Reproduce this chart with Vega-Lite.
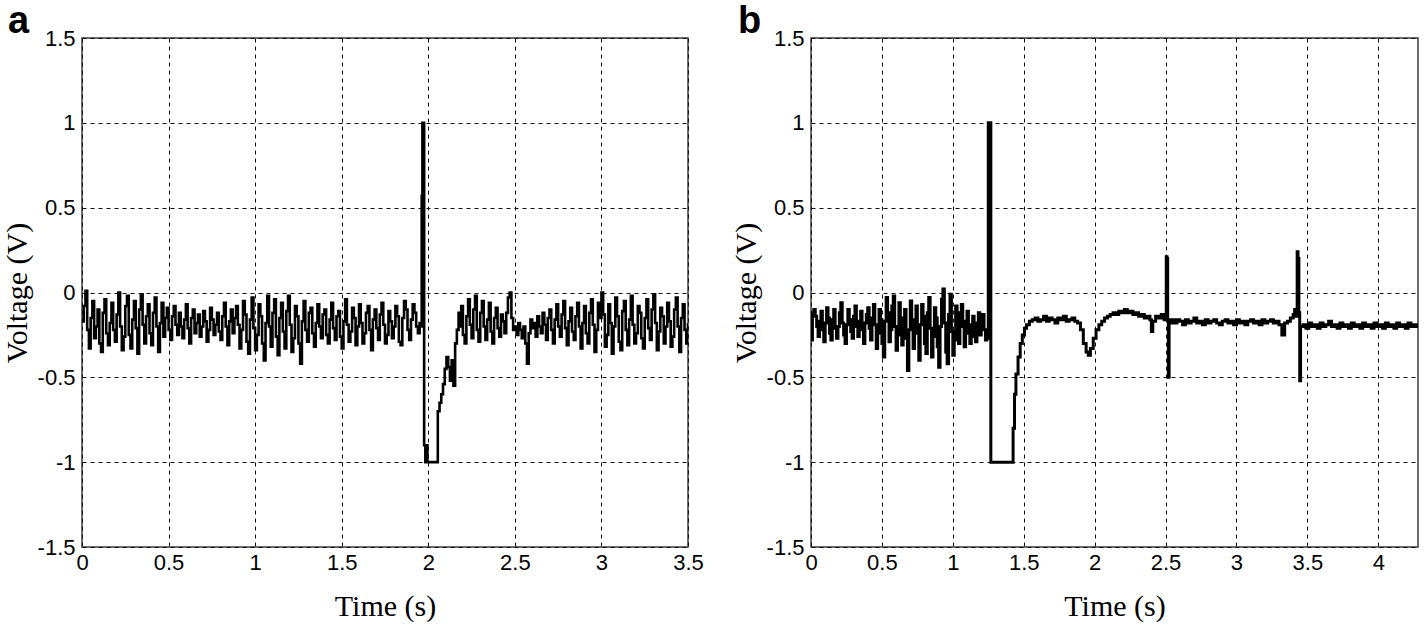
{
  "$schema": "https://vega.github.io/schema/vega-lite/v6.json",
  "autosize": {"type": "none"},
  "padding": {"left": 82, "top": 38, "right": 1342, "bottom": 589},
  "background": "white",
  "spacing": 123,
  "bounds": "flush",
  "config": {
    "view": {"stroke": "#3c3c3c", "strokeWidth": 1.5},
    "axis": {
      "grid": true, "gridColor": "#111", "gridDash": [4, 4], "gridWidth": 1, "gridOpacity": 1,
      "domain": false, "ticks": false,
      "labelFont": "Liberation Sans", "labelFontSize": 22, "labelColor": "#000",
      "labelFlush": false, "labelOverlap": false,
      "titleFont": "Liberation Serif", "titleFontSize": 30, "titleFontWeight": "normal", "titleColor": "#000"
    }
  },
  "datasets": {
    "a": [
      {"t":0,"v":-0.17},{"t":0.01,"v":-0.08},{"t":0.02,"v":0.01},{"t":0.03,"v":-0.22},{"t":0.04,"v":-0.33},{"t":0.05,"v":-0.15},{"t":0.06,"v":-0.05},{"t":0.07,"v":-0.27},{"t":0.08,"v":-0.2},{"t":0.09,"v":-0.1},
      {"t":0.1,"v":-0.3},{"t":0.11,"v":-0.35},{"t":0.12,"v":-0.12},{"t":0.13,"v":-0.04},{"t":0.14,"v":-0.24},{"t":0.15,"v":-0.31},{"t":0.16,"v":-0.18},{"t":0.17,"v":-0.06},{"t":0.18,"v":-0.22},{"t":0.19,"v":-0.29},
      {"t":0.2,"v":-0.13},{"t":0.21,"v":0},{"t":0.22,"v":-0.2},{"t":0.23,"v":-0.34},{"t":0.24,"v":-0.26},{"t":0.25,"v":-0.08},{"t":0.26,"v":-0.02},{"t":0.27,"v":-0.25},{"t":0.28,"v":-0.33},{"t":0.29,"v":-0.16},
      {"t":0.3,"v":-0.05},{"t":0.31,"v":-0.21},{"t":0.32,"v":-0.36},{"t":0.33,"v":-0.1},{"t":0.34,"v":-0.01},{"t":0.35,"v":-0.19},{"t":0.36,"v":-0.3},{"t":0.37,"v":-0.14},{"t":0.38,"v":-0.07},{"t":0.39,"v":-0.24},
      {"t":0.4,"v":-0.31},{"t":0.41,"v":-0.12},{"t":0.42,"v":-0.03},{"t":0.43,"v":-0.2},{"t":0.44,"v":-0.35},{"t":0.45,"v":-0.18},{"t":0.46,"v":-0.06},{"t":0.47,"v":-0.26},{"t":0.48,"v":-0.15},{"t":0.49,"v":-0.09},
      {"t":0.5,"v":-0.22},{"t":0.51,"v":-0.28},{"t":0.52,"v":-0.14},{"t":0.53,"v":-0.08},{"t":0.54,"v":-0.19},{"t":0.55,"v":-0.25},{"t":0.56,"v":-0.12},{"t":0.57,"v":-0.2},{"t":0.58,"v":-0.27},{"t":0.59,"v":-0.16},
      {"t":0.6,"v":-0.07},{"t":0.61,"v":-0.21},{"t":0.62,"v":-0.3},{"t":0.63,"v":-0.15},{"t":0.64,"v":-0.1},{"t":0.65,"v":-0.24},{"t":0.66,"v":-0.18},{"t":0.67,"v":-0.13},{"t":0.68,"v":-0.26},{"t":0.69,"v":-0.2},
      {"t":0.7,"v":-0.11},{"t":0.71,"v":-0.17},{"t":0.72,"v":-0.29},{"t":0.73,"v":-0.22},{"t":0.74,"v":-0.09},{"t":0.75,"v":-0.16},{"t":0.76,"v":-0.25},{"t":0.77,"v":-0.19},{"t":0.78,"v":-0.12},{"t":0.79,"v":-0.23},
      {"t":0.8,"v":-0.28},{"t":0.81,"v":-0.14},{"t":0.82,"v":-0.06},{"t":0.83,"v":-0.2},{"t":0.84,"v":-0.31},{"t":0.85,"v":-0.17},{"t":0.86,"v":-0.1},{"t":0.87,"v":-0.24},{"t":0.88,"v":-0.15},{"t":0.89,"v":-0.08},
      {"t":0.9,"v":-0.19},{"t":0.91,"v":-0.33},{"t":0.92,"v":-0.22},{"t":0.93,"v":-0.05},{"t":0.94,"v":-0.13},{"t":0.95,"v":-0.29},{"t":0.96,"v":-0.36},{"t":0.97,"v":-0.16},{"t":0.98,"v":-0.03},{"t":0.99,"v":-0.21},
      {"t":1,"v":-0.34},{"t":1.01,"v":-0.25},{"t":1.02,"v":-0.07},{"t":1.03,"v":-0.14},{"t":1.04,"v":-0.3},{"t":1.05,"v":-0.4},{"t":1.06,"v":-0.18},{"t":1.07,"v":-0.02},{"t":1.08,"v":-0.2},{"t":1.09,"v":-0.32},
      {"t":1.1,"v":-0.12},{"t":1.11,"v":-0.04},{"t":1.12,"v":-0.26},{"t":1.13,"v":-0.37},{"t":1.14,"v":-0.15},{"t":1.15,"v":-0.06},{"t":1.16,"v":-0.23},{"t":1.17,"v":-0.33},{"t":1.18,"v":-0.11},{"t":1.19,"v":-0.02},
      {"t":1.2,"v":-0.19},{"t":1.21,"v":-0.35},{"t":1.22,"v":-0.27},{"t":1.23,"v":-0.08},{"t":1.24,"v":-0.14},{"t":1.25,"v":-0.3},{"t":1.26,"v":-0.42},{"t":1.27,"v":-0.17},{"t":1.28,"v":-0.05},{"t":1.29,"v":-0.22},
      {"t":1.3,"v":-0.29},{"t":1.31,"v":-0.12},{"t":1.32,"v":-0.09},{"t":1.33,"v":-0.24},{"t":1.34,"v":-0.32},{"t":1.35,"v":-0.18},{"t":1.36,"v":-0.07},{"t":1.37,"v":-0.2},{"t":1.38,"v":-0.27},{"t":1.39,"v":-0.13},
      {"t":1.4,"v":-0.1},{"t":1.41,"v":-0.25},{"t":1.42,"v":-0.3},{"t":1.43,"v":-0.16},{"t":1.44,"v":-0.06},{"t":1.45,"v":-0.21},{"t":1.46,"v":-0.28},{"t":1.47,"v":-0.14},{"t":1.48,"v":-0.11},{"t":1.49,"v":-0.26},
      {"t":1.5,"v":-0.33},{"t":1.51,"v":-0.17},{"t":1.52,"v":-0.04},{"t":1.53,"v":-0.19},{"t":1.54,"v":-0.29},{"t":1.55,"v":-0.23},{"t":1.56,"v":-0.09},{"t":1.57,"v":-0.15},{"t":1.58,"v":-0.31},{"t":1.59,"v":-0.2},
      {"t":1.6,"v":-0.07},{"t":1.61,"v":-0.18},{"t":1.62,"v":-0.3},{"t":1.63,"v":-0.24},{"t":1.64,"v":-0.12},{"t":1.65,"v":-0.08},{"t":1.66,"v":-0.22},{"t":1.67,"v":-0.34},{"t":1.68,"v":-0.16},{"t":1.69,"v":-0.1},
      {"t":1.7,"v":-0.21},{"t":1.71,"v":-0.28},{"t":1.72,"v":-0.13},{"t":1.73,"v":-0.06},{"t":1.74,"v":-0.19},{"t":1.75,"v":-0.3},{"t":1.76,"v":-0.25},{"t":1.77,"v":-0.11},{"t":1.78,"v":-0.17},{"t":1.79,"v":-0.27},
      {"t":1.8,"v":-0.2},{"t":1.81,"v":-0.08},{"t":1.82,"v":-0.14},{"t":1.83,"v":-0.29},{"t":1.84,"v":-0.31},{"t":1.85,"v":-0.15},{"t":1.86,"v":-0.05},{"t":1.87,"v":-0.1},{"t":1.88,"v":-0.22},{"t":1.89,"v":-0.28},
      {"t":1.9,"v":-0.16},{"t":1.91,"v":-0.07},{"t":1.92,"v":-0.12},{"t":1.93,"v":-0.2},{"t":1.94,"v":-0.24},{"t":1.95,"v":-0.18},
      {"t":1.958,"v":-0.2},{"t":1.962,"v":0.57},{"t":1.966,"v":1.0},{"t":1.972,"v":1.0},{"t":1.976,"v":-0.9},{"t":1.983,"v":-1.0},{"t":1.99,"v":-0.9},{"t":1.995,"v":-1.0},
      {"t":2.01,"v":-1.0},{"t":2.03,"v":-1.0},{"t":2.045,"v":-1.0},{"t":2.055,"v":-0.7},{"t":2.065,"v":-0.65},{"t":2.075,"v":-0.6},{"t":2.085,"v":-0.54},{"t":2.095,"v":-0.45},
      {"t":2.105,"v":-0.38},{"t":2.115,"v":-0.44},{"t":2.125,"v":-0.52},{"t":2.135,"v":-0.4},{"t":2.145,"v":-0.55},{"t":2.155,"v":-0.3},{"t":2.165,"v":-0.22},{"t":2.175,"v":-0.12},
      {"t":2.18,"v":-0.2},{"t":2.19,"v":-0.08},
      {"t":2.2,"v":-0.25},{"t":2.21,"v":-0.3},{"t":2.22,"v":-0.14},{"t":2.23,"v":-0.04},{"t":2.24,"v":-0.19},{"t":2.25,"v":-0.27},{"t":2.26,"v":-0.1},{"t":2.27,"v":-0.02},{"t":2.28,"v":-0.22},{"t":2.29,"v":-0.29},
      {"t":2.3,"v":-0.12},{"t":2.31,"v":-0.05},{"t":2.32,"v":-0.2},{"t":2.33,"v":-0.28},{"t":2.34,"v":-0.16},{"t":2.35,"v":-0.06},{"t":2.36,"v":-0.23},{"t":2.37,"v":-0.3},{"t":2.38,"v":-0.15},{"t":2.39,"v":-0.09},
      {"t":2.4,"v":-0.21},{"t":2.41,"v":-0.26},{"t":2.42,"v":-0.13},{"t":2.43,"v":-0.17},{"t":2.44,"v":-0.24},{"t":2.45,"v":-0.12},{"t":2.46,"v":-0.03},{"t":2.47,"v":0},{"t":2.48,"v":-0.15},{"t":2.49,"v":-0.22},
      {"t":2.5,"v":-0.2},{"t":2.51,"v":-0.25},{"t":2.52,"v":-0.18},{"t":2.53,"v":-0.22},{"t":2.54,"v":-0.27},{"t":2.55,"v":-0.2},{"t":2.56,"v":-0.3},{"t":2.57,"v":-0.42},{"t":2.58,"v":-0.24},{"t":2.59,"v":-0.16},
      {"t":2.6,"v":-0.21},{"t":2.61,"v":-0.18},{"t":2.62,"v":-0.26},{"t":2.63,"v":-0.14},{"t":2.64,"v":-0.2},{"t":2.65,"v":-0.24},{"t":2.66,"v":-0.12},{"t":2.67,"v":-0.19},{"t":2.68,"v":-0.28},{"t":2.69,"v":-0.15},
      {"t":2.7,"v":-0.1},{"t":2.71,"v":-0.22},{"t":2.72,"v":-0.3},{"t":2.73,"v":-0.16},{"t":2.74,"v":-0.07},{"t":2.75,"v":-0.2},{"t":2.76,"v":-0.26},{"t":2.77,"v":-0.13},{"t":2.78,"v":-0.05},{"t":2.79,"v":-0.21},
      {"t":2.8,"v":-0.31},{"t":2.81,"v":-0.17},{"t":2.82,"v":-0.09},{"t":2.83,"v":-0.23},{"t":2.84,"v":-0.28},{"t":2.85,"v":-0.14},{"t":2.86,"v":-0.06},{"t":2.87,"v":-0.2},{"t":2.88,"v":-0.33},{"t":2.89,"v":-0.18},
      {"t":2.9,"v":-0.08},{"t":2.91,"v":-0.24},{"t":2.92,"v":-0.3},{"t":2.93,"v":-0.12},{"t":2.94,"v":-0.04},{"t":2.95,"v":-0.19},{"t":2.96,"v":-0.35},{"t":2.97,"v":-0.22},{"t":2.98,"v":-0.06},{"t":2.99,"v":-0.15},
      {"t":3,"v":0},{"t":3.01,"v":-0.13},{"t":3.02,"v":-0.32},{"t":3.03,"v":-0.25},{"t":3.04,"v":-0.07},{"t":3.05,"v":-0.18},{"t":3.06,"v":-0.36},{"t":3.07,"v":-0.2},{"t":3.08,"v":-0.03},{"t":3.09,"v":-0.14},
      {"t":3.1,"v":-0.29},{"t":3.11,"v":-0.34},{"t":3.12,"v":-0.11},{"t":3.13,"v":-0.05},{"t":3.14,"v":-0.22},{"t":3.15,"v":-0.31},{"t":3.16,"v":-0.16},{"t":3.17,"v":-0.02},{"t":3.18,"v":-0.19},{"t":3.19,"v":-0.3},
      {"t":3.2,"v":-0.24},{"t":3.21,"v":-0.08},{"t":3.22,"v":-0.12},{"t":3.23,"v":-0.27},{"t":3.24,"v":-0.33},{"t":3.25,"v":-0.15},{"t":3.26,"v":-0.04},{"t":3.27,"v":-0.21},{"t":3.28,"v":-0.28},{"t":3.29,"v":-0.1},
      {"t":3.3,"v":-0.01},{"t":3.31,"v":-0.18},{"t":3.32,"v":-0.34},{"t":3.33,"v":-0.23},{"t":3.34,"v":-0.09},{"t":3.35,"v":-0.14},{"t":3.36,"v":-0.3},{"t":3.37,"v":-0.2},{"t":3.38,"v":-0.06},{"t":3.39,"v":-0.17},
      {"t":3.4,"v":-0.32},{"t":3.41,"v":-0.26},{"t":3.42,"v":-0.1},{"t":3.43,"v":-0.03},{"t":3.44,"v":-0.2},{"t":3.45,"v":-0.35},{"t":3.46,"v":-0.15},{"t":3.47,"v":-0.07},{"t":3.48,"v":-0.22},{"t":3.49,"v":-0.3},{"t":3.5,"v":-0.18}
    ],
    "b": [
      {"t":0,"v":-0.28},{"t":0.01,"v":-0.12},{"t":0.02,"v":-0.1},{"t":0.03,"v":-0.14},{"t":0.04,"v":-0.2},{"t":0.05,"v":-0.26},{"t":0.06,"v":-0.17},{"t":0.07,"v":-0.11},{"t":0.08,"v":-0.22},{"t":0.09,"v":-0.29},
      {"t":0.1,"v":-0.18},{"t":0.11,"v":-0.09},{"t":0.12,"v":-0.15},{"t":0.13,"v":-0.24},{"t":0.14,"v":-0.28},{"t":0.15,"v":-0.16},{"t":0.16,"v":-0.1},{"t":0.17,"v":-0.21},{"t":0.18,"v":-0.27},{"t":0.19,"v":-0.2},
      {"t":0.2,"v":-0.12},{"t":0.21,"v":-0.06},{"t":0.22,"v":-0.18},{"t":0.23,"v":-0.25},{"t":0.24,"v":-0.3},{"t":0.25,"v":-0.19},{"t":0.26,"v":-0.1},{"t":0.27,"v":-0.16},{"t":0.28,"v":-0.23},{"t":0.29,"v":-0.27},
      {"t":0.3,"v":-0.14},{"t":0.31,"v":-0.08},{"t":0.32,"v":-0.2},{"t":0.33,"v":-0.26},{"t":0.34,"v":-0.17},{"t":0.35,"v":-0.11},{"t":0.36,"v":-0.22},{"t":0.37,"v":-0.3},{"t":0.38,"v":-0.18},{"t":0.39,"v":-0.13},
      {"t":0.4,"v":-0.09},{"t":0.41,"v":-0.21},{"t":0.42,"v":-0.28},{"t":0.43,"v":-0.15},{"t":0.44,"v":-0.07},{"t":0.45,"v":-0.19},{"t":0.46,"v":-0.33},{"t":0.47,"v":-0.24},{"t":0.48,"v":-0.1},{"t":0.49,"v":-0.16},
      {"t":0.5,"v":-0.3},{"t":0.51,"v":-0.38},{"t":0.52,"v":-0.17},{"t":0.53,"v":-0.03},{"t":0.54,"v":-0.12},{"t":0.55,"v":-0.29},{"t":0.56,"v":-0.22},{"t":0.57,"v":-0.08},{"t":0.58,"v":-0.02},{"t":0.59,"v":-0.2},
      {"t":0.6,"v":-0.34},{"t":0.61,"v":-0.25},{"t":0.62,"v":-0.06},{"t":0.63,"v":-0.15},{"t":0.64,"v":-0.31},{"t":0.65,"v":-0.18},{"t":0.66,"v":-0.1},{"t":0.67,"v":-0.27},{"t":0.68,"v":-0.46},{"t":0.69,"v":-0.22},
      {"t":0.7,"v":-0.05},{"t":0.71,"v":-0.16},{"t":0.72,"v":-0.33},{"t":0.73,"v":-0.2},{"t":0.74,"v":-0.08},{"t":0.75,"v":-0.24},{"t":0.76,"v":-0.4},{"t":0.77,"v":-0.19},{"t":0.78,"v":-0.07},{"t":0.79,"v":-0.14},
      {"t":0.8,"v":-0.3},{"t":0.81,"v":-0.36},{"t":0.82,"v":-0.12},{"t":0.83,"v":-0.03},{"t":0.84,"v":-0.21},{"t":0.85,"v":-0.38},{"t":0.86,"v":-0.26},{"t":0.87,"v":-0.09},{"t":0.88,"v":-0.15},{"t":0.89,"v":-0.32},
      {"t":0.9,"v":-0.44},{"t":0.91,"v":-0.2},{"t":0.92,"v":-0.04},{"t":0.93,"v":0.02},{"t":0.94,"v":-0.18},{"t":0.95,"v":-0.35},{"t":0.96,"v":-0.42},{"t":0.97,"v":-0.13},{"t":0.98,"v":-0.01},{"t":0.99,"v":-0.23},
      {"t":1,"v":-0.37},{"t":1.01,"v":-0.28},{"t":1.02,"v":-0.08},{"t":1.03,"v":-0.12},{"t":1.04,"v":-0.3},{"t":1.05,"v":-0.2},{"t":1.06,"v":-0.07},{"t":1.07,"v":-0.17},{"t":1.08,"v":-0.32},{"t":1.09,"v":-0.24},
      {"t":1.1,"v":-0.11},{"t":1.11,"v":-0.19},{"t":1.12,"v":-0.3},{"t":1.13,"v":-0.26},{"t":1.14,"v":-0.14},{"t":1.15,"v":-0.22},{"t":1.16,"v":-0.29},{"t":1.17,"v":-0.18},{"t":1.18,"v":-0.12},{"t":1.19,"v":-0.25},
      {"t":1.2,"v":-0.19},{"t":1.21,"v":-0.13},{"t":1.22,"v":-0.22},{"t":1.23,"v":-0.28},{"t":1.24,"v":-0.27},{"t":1.248,"v":-0.27},
      {"t":1.25,"v":1.0},{"t":1.262,"v":1.0},{"t":1.268,"v":-1.0},{"t":1.3,"v":-1.0},{"t":1.35,"v":-1.0},{"t":1.4,"v":-1.0},{"t":1.415,"v":-1.0},
      {"t":1.425,"v":-0.8},{"t":1.435,"v":-0.6},{"t":1.445,"v":-0.48},{"t":1.46,"v":-0.38},{"t":1.475,"v":-0.3},{"t":1.49,"v":-0.25},{"t":1.505,"v":-0.21},{"t":1.52,"v":-0.19},{"t":1.54,"v":-0.17},{"t":1.56,"v":-0.16},
      {"t":1.58,"v":-0.15},{"t":1.6,"v":-0.17},{"t":1.62,"v":-0.16},{"t":1.64,"v":-0.14},{"t":1.66,"v":-0.17},{"t":1.68,"v":-0.15},{"t":1.7,"v":-0.16},{"t":1.72,"v":-0.18},{"t":1.74,"v":-0.15},{"t":1.76,"v":-0.16},
      {"t":1.78,"v":-0.14},{"t":1.8,"v":-0.17},{"t":1.82,"v":-0.16},{"t":1.84,"v":-0.15},{"t":1.86,"v":-0.17},{"t":1.88,"v":-0.18},
      {"t":1.9,"v":-0.22},{"t":1.92,"v":-0.3},{"t":1.94,"v":-0.35},{"t":1.955,"v":-0.37},{"t":1.97,"v":-0.33},{"t":1.99,"v":-0.27},{"t":2.01,"v":-0.22},{"t":2.03,"v":-0.19},{"t":2.05,"v":-0.17},{"t":2.07,"v":-0.15},
      {"t":2.09,"v":-0.14},{"t":2.11,"v":-0.13},{"t":2.13,"v":-0.12},{"t":2.15,"v":-0.13},{"t":2.17,"v":-0.11},{"t":2.19,"v":-0.12},{"t":2.21,"v":-0.1},{"t":2.23,"v":-0.12},{"t":2.25,"v":-0.11},{"t":2.27,"v":-0.13},
      {"t":2.29,"v":-0.12},{"t":2.31,"v":-0.14},{"t":2.33,"v":-0.13},{"t":2.35,"v":-0.15},{"t":2.37,"v":-0.14},{"t":2.39,"v":-0.16},{"t":2.4,"v":-0.23},{"t":2.41,"v":-0.17},{"t":2.43,"v":-0.14},{"t":2.45,"v":-0.15},
      {"t":2.47,"v":-0.13},{"t":2.49,"v":-0.16},{"t":2.5,"v":-0.14},{"t":2.505,"v":0.21},{"t":2.51,"v":0.2},{"t":2.515,"v":-0.16},{"t":2.52,"v":-0.5},{"t":2.525,"v":-0.18},{"t":2.54,"v":-0.16},
      {"t":2.56,"v":-0.18},{"t":2.58,"v":-0.16},{"t":2.6,"v":-0.17},{"t":2.62,"v":-0.19},{"t":2.64,"v":-0.16},{"t":2.66,"v":-0.18},{"t":2.68,"v":-0.17},{"t":2.7,"v":-0.15},{"t":2.72,"v":-0.18},{"t":2.74,"v":-0.17},
      {"t":2.76,"v":-0.19},{"t":2.78,"v":-0.16},{"t":2.8,"v":-0.18},{"t":2.82,"v":-0.17},{"t":2.84,"v":-0.16},{"t":2.86,"v":-0.18},{"t":2.88,"v":-0.19},{"t":2.9,"v":-0.17},{"t":2.92,"v":-0.16},{"t":2.94,"v":-0.18},
      {"t":2.96,"v":-0.17},{"t":2.98,"v":-0.19},{"t":3,"v":-0.16},{"t":3.02,"v":-0.18},{"t":3.04,"v":-0.17},{"t":3.06,"v":-0.19},{"t":3.08,"v":-0.17},{"t":3.1,"v":-0.16},{"t":3.12,"v":-0.18},{"t":3.14,"v":-0.17},
      {"t":3.16,"v":-0.19},{"t":3.18,"v":-0.16},{"t":3.2,"v":-0.18},{"t":3.22,"v":-0.17},{"t":3.24,"v":-0.16},{"t":3.26,"v":-0.18},{"t":3.28,"v":-0.17},{"t":3.3,"v":-0.19},{"t":3.32,"v":-0.25},{"t":3.34,"v":-0.18},
      {"t":3.36,"v":-0.17},{"t":3.38,"v":-0.15},{"t":3.4,"v":-0.13},{"t":3.41,"v":-0.1},{"t":3.42,"v":-0.14},{"t":3.428,"v":0.24},{"t":3.434,"v":0.2},{"t":3.44,"v":-0.12},{"t":3.446,"v":-0.52},{"t":3.452,"v":-0.2},
      {"t":3.47,"v":-0.19},{"t":3.49,"v":-0.21},{"t":3.51,"v":-0.18},{"t":3.53,"v":-0.2},{"t":3.55,"v":-0.19},{"t":3.57,"v":-0.21},{"t":3.59,"v":-0.18},{"t":3.61,"v":-0.2},{"t":3.63,"v":-0.19},{"t":3.65,"v":-0.17},
      {"t":3.67,"v":-0.2},{"t":3.69,"v":-0.19},{"t":3.71,"v":-0.21},{"t":3.73,"v":-0.18},{"t":3.75,"v":-0.2},{"t":3.77,"v":-0.19},{"t":3.79,"v":-0.21},{"t":3.81,"v":-0.18},{"t":3.83,"v":-0.2},{"t":3.85,"v":-0.19},
      {"t":3.87,"v":-0.21},{"t":3.89,"v":-0.18},{"t":3.91,"v":-0.2},{"t":3.93,"v":-0.19},{"t":3.95,"v":-0.21},{"t":3.97,"v":-0.18},{"t":3.99,"v":-0.2},{"t":4.01,"v":-0.19},{"t":4.03,"v":-0.21},{"t":4.05,"v":-0.18},
      {"t":4.07,"v":-0.2},{"t":4.09,"v":-0.19},{"t":4.11,"v":-0.21},{"t":4.13,"v":-0.18},{"t":4.15,"v":-0.2},{"t":4.17,"v":-0.19},{"t":4.19,"v":-0.21},{"t":4.21,"v":-0.18},{"t":4.23,"v":-0.2},{"t":4.25,"v":-0.19},
      {"t":4.27,"v":-0.2},{"t":4.28,"v":-0.19}
    ]
  },
  "hconcat": [
    {
      "width": 606,
      "height": 509,
      "title": {"text": "a", "anchor": "start", "frame": "group", "dx": -74, "dy": 58, "offset": 6, "baseline": "bottom", "fontSize": 38, "fontWeight": "bold", "font": "Liberation Sans", "color": "#000"},
      "data": {"name": "a"},
      "mark": {"type": "line", "color": "#000", "strokeWidth": 2.6, "interpolate": "step-after", "clip": true},
      "encoding": {
        "x": {"field": "t", "type": "quantitative", "scale": {"domain": [0, 3.5], "nice": false, "zero": false},
          "axis": {"values": [0, 0.5, 1, 1.5, 2, 2.5, 3, 3.5], "labelExpr": "'' + datum.value", "title": "Time (s)", "titleY": 59, "titleBaseline": "middle", "labelPadding": 5}},
        "y": {"field": "v", "type": "quantitative", "scale": {"domain": [-1.5, 1.5], "nice": false},
          "axis": {"values": [-1.5, -1, -0.5, 0, 0.5, 1, 1.5], "labelExpr": "'' + datum.value", "title": "Voltage (V)", "titleX": -65, "titleY": 254.5, "titleAngle": -90, "titleAlign": "center", "titleBaseline": "middle", "labelPadding": 7}}
      }
    },
    {
      "width": 607,
      "height": 509,
      "title": {"text": "b", "anchor": "start", "frame": "group", "dx": -73, "dy": 58, "offset": 6, "baseline": "bottom", "fontSize": 38, "fontWeight": "bold", "font": "Liberation Sans", "color": "#000"},
      "data": {"name": "b"},
      "mark": {"type": "line", "color": "#000", "strokeWidth": 3, "interpolate": "step-after", "clip": true},
      "encoding": {
        "x": {"field": "t", "type": "quantitative", "scale": {"domain": [0, 4.28], "nice": false, "zero": false},
          "axis": {"values": [0, 0.5, 1, 1.5, 2, 2.5, 3, 3.5, 4], "labelExpr": "'' + datum.value", "title": "Time (s)", "titleY": 59, "titleBaseline": "middle", "labelPadding": 5}},
        "y": {"field": "v", "type": "quantitative", "scale": {"domain": [-1.5, 1.5], "nice": false},
          "axis": {"values": [-1.5, -1, -0.5, 0, 0.5, 1, 1.5], "labelExpr": "'' + datum.value", "title": "Voltage (V)", "titleX": -65, "titleY": 254.5, "titleAngle": -90, "titleAlign": "center", "titleBaseline": "middle", "labelPadding": 7}}
      }
    }
  ]
}
